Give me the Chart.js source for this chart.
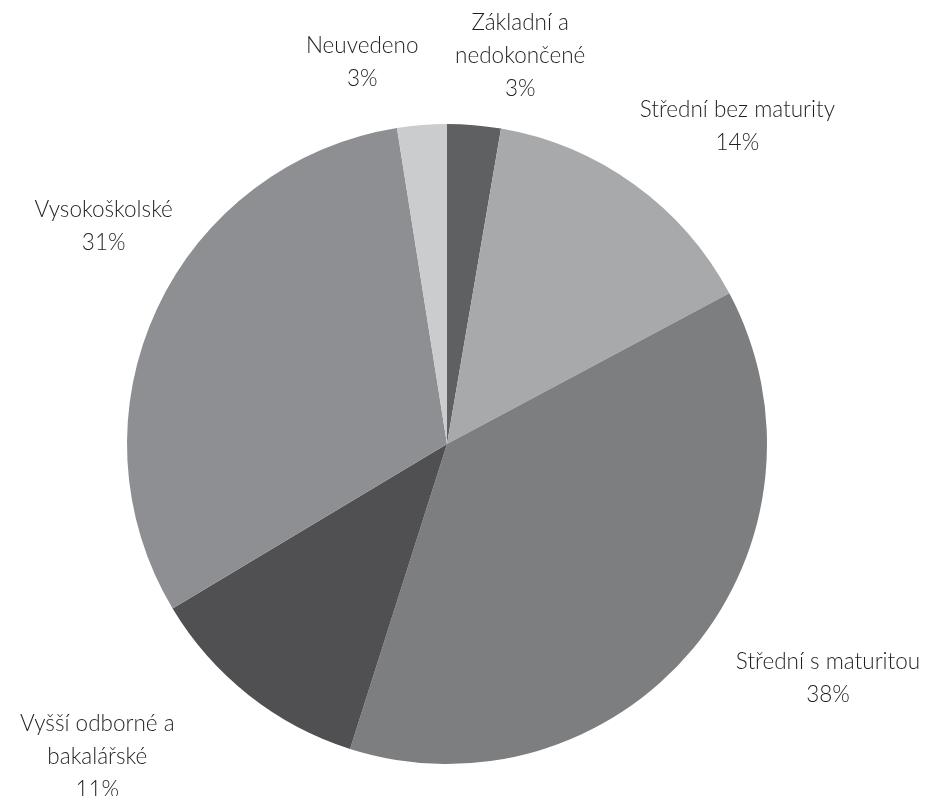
<!DOCTYPE html>
<html>
<head>
<meta charset="utf-8">
<script src="https://cdn.jsdelivr.net/npm/chart.js@4"></script>
<style>
  html, body { margin: 0; padding: 0; background: #ffffff; }
  #wrap { width: 928px; height: 796px; }
</style>
</head>
<body>
<div id="wrap"><canvas id="chart"></canvas></div>
<script>
// Data (clockwise from 12 o'clock)
const categories = [
    ['Základní a', 'nedokončené'],
    ['Střední bez maturity'],
    ['Střední s maturitou'],
    ['Vyšší odborné a', 'bakalářské'],
    ['Vysokoškolské'],
    ['Neuvedeno']
]
const shares = [2.7, 14.5, 37.7, 11.5, 31.1, 2.5]
const shareLabels = ['3%', '14%', '38%', '11%', '31%', '3%']

const colors = ['#5f6062', '#a8a9ab', '#7d7e80', '#505052', '#8e8f92', '#cbccce']

// nudges for the outside labels, relative to a point on the mid angle
const labelNudge = [[41, -10], [68, -10], [89, -9], [-114, 15], [1, -57], [-55, -3]]

const outsideLabels = {
    id: 'outsideLabels',
    afterDatasetsDraw(chart) {
        const ctx = chart.ctx
        const arcs = chart.getDatasetMeta(0).data
        ctx.save()
        ctx.font = '300 22.5px Lato'
        ctx.fillStyle = '#231f20'
        ctx.textAlign = 'center'
        ctx.textBaseline = 'middle'
        const lineH = 33
        arcs.forEach((arc, i) => {
            const mid = (arc.startAngle + arc.endAngle) / 2
            const d = arc.outerRadius + 60
            const cx = arc.x + Math.cos(mid) * d + labelNudge[i][0]
            const cy = arc.y + Math.sin(mid) * d + labelNudge[i][1]
            const lines = categories[i].concat([shareLabels[i]])
            const top = cy - (lines.length - 1) * lineH / 2
            lines.forEach((t, k) => ctx.fillText(t, cx, top + k * lineH))
        })
        ctx.restore()
    }
}

new Chart(document.getElementById('chart'), {
    type: 'pie',
    data: {
        labels: categories.map(c => c.join(' ')),
        datasets: [{
            data: shares,
            backgroundColor: colors,
            borderWidth: 0
        }]
    },
    options: {
        responsive: true,
        maintainAspectRatio: false,
        animation: false,
        layout: { padding: { top: 124, bottom: 32, left: 127, right: 161 } },
        plugins: {
            legend: { display: false },
            tooltip: { enabled: false }
        }
    },
    plugins: [outsideLabels]
})
</script>
</body>
</html>
